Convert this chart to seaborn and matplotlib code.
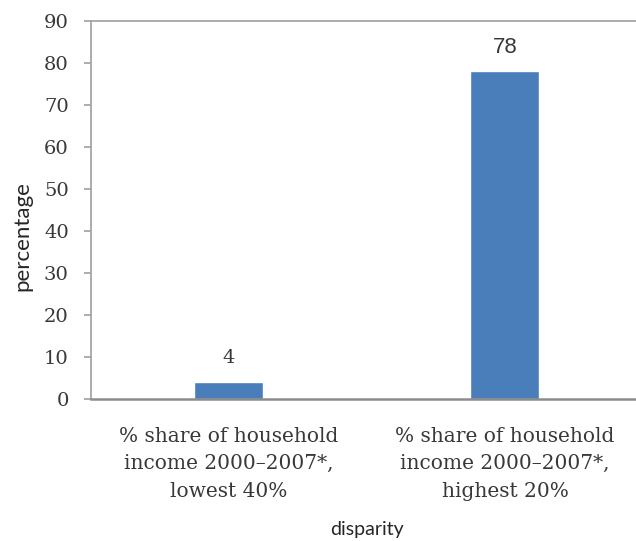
import matplotlib
matplotlib.use('Agg')
import matplotlib.pyplot as plt
import seaborn as sns
import pandas as pd

# data
categories = ['% share of household\nincome 2000\u20132007*,\nlowest 40%',
              '% share of household\nincome 2000\u20132007*,\nhighest 20%']
values = [4, 78]
value_labels = ['4', '78']
y_ticks = [0, 10, 20, 30, 40, 50, 60, 70, 80, 90]

df = pd.DataFrame({'disparity': categories, 'percentage': values})

sns.set_style('white')
plt.rcParams['font.family'] = ['Lato', 'DejaVu Sans']

fig = plt.figure(figsize=(6.36, 5.41), dpi=100)
ax = fig.add_axes([0.143, 0.2625, 0.868, 0.6985])

sns.barplot(data=df, x='disparity', y='percentage', color='#4A7EBB',
            saturation=1, width=0.25, ax=ax)

ax.set_ylim(0, 90)
ax.set_xlim(-0.5, 1.5)
ax.set_yticks(y_ticks)
ax.set_yticklabels([str(t) for t in y_ticks], family='DejaVu Serif',
                   fontsize=14, color='#383838')
ax.set_xticks(range(len(categories)))
ax.set_xticklabels(categories, family='DejaVu Serif', fontsize=14.5,
                   color='#383838', linespacing=1.56)

# value labels above bars
ax.text(0, values[0] + 3.6, value_labels[0], ha='center', va='bottom',
        family='DejaVu Serif', fontsize=14, color='#383838')
ax.text(1, values[1] + 3.2, value_labels[1], ha='center', va='bottom',
        family='Liberation Sans', fontsize=16, color='#383838')

ax.set_ylabel('percentage', fontsize=16, color='#262626')
ax.set_xlabel('disparity', fontsize=14, color='#262626')
ax.yaxis.set_label_coords(-0.107, 0.43)
ax.xaxis.set_label_coords(0.5, -0.322)

# axes lines
for side in ['left', 'top']:
    ax.spines[side].set_color('#A6A6A6')
    ax.spines[side].set_linewidth(1.3)
ax.spines['right'].set_visible(False)
ax.spines['bottom'].set_color('#8C8C8C')
ax.spines['bottom'].set_linewidth(1.8)
ax.tick_params(axis='y', left=True, length=5, width=1.3, color='#A6A6A6', pad=11)
ax.tick_params(axis='x', bottom=False, length=0, pad=20)

fig.savefig('out.png', dpi=100)
